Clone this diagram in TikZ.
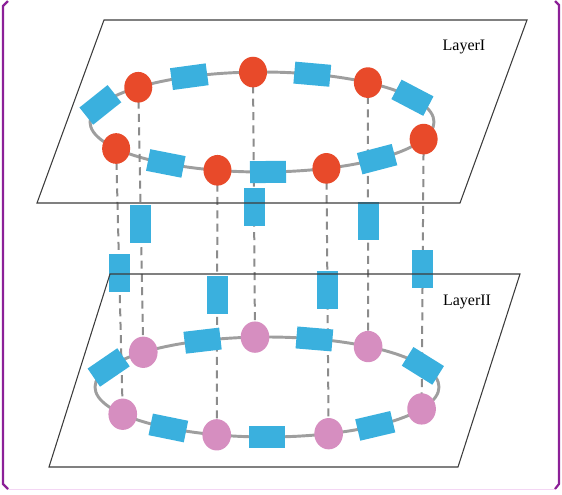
\documentclass[tikz,border=0pt]{standalone}
\usepackage{fontspec}
\setmainfont{Liberation Serif}
\usetikzlibrary{shapes.geometric,backgrounds}

\definecolor{atomred}{RGB}{232,74,42}
\definecolor{atompink}{RGB}{214,142,192}
\definecolor{boxblue}{RGB}{58,176,222}
\definecolor{ringgray}{RGB}{158,158,158}
\definecolor{linkgray}{RGB}{140,140,140}
\definecolor{planegray}{RGB}{60,60,60}
\definecolor{framepurple}{RGB}{140,32,152}
\definecolor{framepink}{RGB}{244,214,244}

% place an atom (ellipse) or a tangent box on a ring of radii 172 x 50
\newcommand\ringatom[4]{\node[#4] (#1) at ([shift={(#2:172 and 50)}]#3) {};}
\newcommand\ringbox[3]{\node[linkbox, rotate={atan2(-50*cos(#2),-172*sin(#2))}] (#1) at ([shift={(#2:172 and 50)}]#3) {};}

\begin{document}
\begin{tikzpicture}[x=0.75pt, y=-0.75pt,
  redatom/.style={ellipse, fill=atomred, draw=none, minimum width=21pt, minimum height=23pt, inner sep=0pt},
  pinkatom/.style={ellipse, fill=atompink, draw=none, minimum width=21.5pt, minimum height=23.5pt, inner sep=0pt},
  linkbox/.style={rectangle, fill=boxblue, draw=none, minimum width=27pt, minimum height=16.5pt, inner sep=0pt},
  vbox/.style={rectangle, fill=boxblue, draw=none, minimum width=15.75pt, minimum height=28.5pt, inner sep=0pt},
  ring/.style={draw=ringgray, line width=2.2pt},
  link/.style={draw=linkgray, line width=1.5pt, dash pattern=on 6pt off 4pt},
  plane/.style={draw=planegray, line width=0.8pt, line join=miter},
  layerlabel/.style={font=\fontsize{12}{14}\selectfont, text=black, inner sep=0pt}]

\useasboundingbox (0,0) rectangle (562,494);

% frame
\draw[framepink, line width=1.2pt] (8,489.5) -- (555,489.5);
\draw[framepurple, line width=1.6pt] (8,1) -- (3,6) -- (3,484) -- (8,489);
\draw[framepurple, line width=1.6pt] (555,1) -- (559,5) -- (559,484) -- (555,489);

% ring centres
\coordinate (c1) at (262,122);
\coordinate (c2) at (267,387);

% upper ring
\ringbox{tb1}{200}{c1}
\ringatom{ta1}{224}{c1}{redatom}
\ringbox{tb2}{245}{c1}
\ringatom{ta2}{267}{c1}{redatom}
\ringbox{tb3}{287}{c1}
\ringatom{ta3}{308}{c1}{redatom}
\ringbox{tb4}{331}{c1}
\ringatom{ta4}{20}{c1}{redatom}
\ringbox{tb5}{48}{c1}
\ringatom{ta5}{68}{c1}{redatom}
\ringbox{tb6}{88}{c1}
\ringatom{ta6}{105}{c1}{redatom}
\ringbox{tb7}{124}{c1}
\ringatom{ta7}{148}{c1}{redatom}

% lower ring
\ringbox{bb1}{203}{c2}
\ringatom{ba1}{224}{c2}{pinkatom}
\ringbox{bb2}{248}{c2}
\ringatom{ba2}{266}{c2}{pinkatom}
\ringbox{bb3}{286}{c2}
\ringatom{ba3}{306}{c2}{pinkatom}
\ringbox{bb4}{335}{c2}
\ringatom{ba4}{26}{c2}{pinkatom}
\ringbox{bb5}{51}{c2}
\ringatom{ba5}{69}{c2}{pinkatom}
\ringbox{bb6}{90}{c2}
\ringatom{ba6}{107}{c2}{pinkatom}
\ringbox{bb7}{125}{c2}
\ringatom{ba7}{147}{c2}{pinkatom}

\begin{pgfonlayer}{background}
  % rings
  \draw[ring] (c1) ellipse [x radius=172, y radius=50];
  \draw[ring] (c2) ellipse [x radius=172, y radius=50];
  % interlayer links with their boxes
  \draw[link] (ta1.center) -- node[vbox, pos=0.516] (v1) {} (ba1.center);
  \draw[link] (ta2.center) -- node[vbox, pos=0.509] (v2) {} (ba2.center);
  \draw[link] (ta3.center) -- node[vbox, pos=0.524] (v3) {} (ba3.center);
  \draw[link] (ta4.center) -- node[vbox, pos=0.481] (v4) {} (ba4.center);
  \draw[link] (ta5.center) -- node[vbox, pos=0.460] (v5) {} (ba5.center);
  \draw[link] (ta6.center) -- node[vbox, pos=0.471] (v6) {} (ba6.center);
  \draw[link] (ta7.center) -- node[vbox, pos=0.470] (v7) {} (ba7.center);
\end{pgfonlayer}

% layer planes
\draw[plane] (104,20) -- (527,20) -- (460,203) -- (37,203) -- cycle;
\draw[plane] (110,274) -- (520,274) -- (458,467) -- (49,467) -- cycle;

\node[layerlabel] (lab1) at (464,47) {LayerI};
\node[layerlabel] (lab2) at (467,302) {LayerII};

\end{tikzpicture}
\end{document}
